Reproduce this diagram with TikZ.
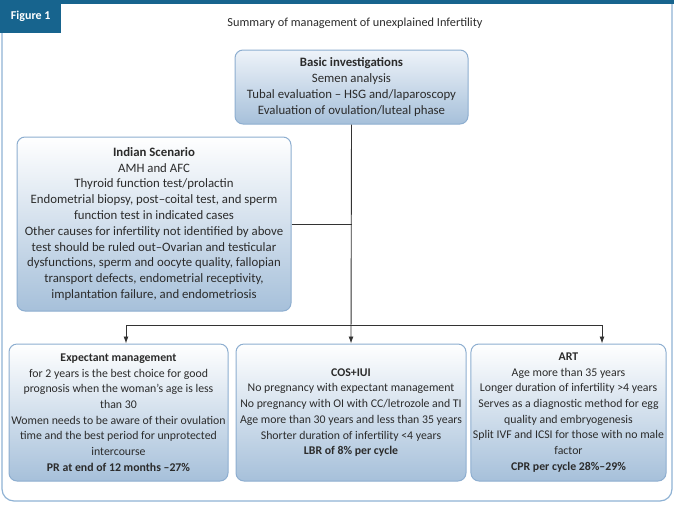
\documentclass[tikz,border=0pt]{standalone}
\usepackage{fontspec}
\setmainfont{Carlito}
\usetikzlibrary{arrows.meta,shadings}
\definecolor{tabblue}{HTML}{17648E}
\definecolor{frameblue}{HTML}{8FB2D4}
\definecolor{boxedge}{HTML}{8DAED0}
\definecolor{boxlow}{HTML}{A6C0DA}
\definecolor{boxtop}{HTML}{EEF3F9}
\definecolor{linegray}{HTML}{333333}
\definecolor{textgray}{HTML}{2B2B2B}
\tikzset{
  box/.style={draw=boxedge, line width=1pt, rounded corners=8pt, align=center,
    inner sep=2pt, font=\fontsize{12.8}{15.8}\selectfont, text=textgray},
  lowbox/.style={box, font=\fontsize{11.8}{15.7}\selectfont},
  grad/.style={top color=boxtop, bottom color=boxlow},
  gradlow/.style={top color=white, middle color=white, bottom color=boxlow},
  conn/.style={draw=linegray, line width=0.9pt},
  arr/.style={conn, -{Latex[length=7pt,width=5pt]}},
}
\begin{document}
\begin{tikzpicture}[x=1pt,y=-1pt]
\useasboundingbox (0,0) rectangle (674,504);
% frame
\draw[frameblue, line width=1.2pt, rounded corners=12pt] (2,2) -- (2,501) -- (672,501) -- (672,2);
\fill[tabblue] (0,0) rectangle (674,4);
\node[fill=tabblue, minimum width=61pt, minimum height=33pt, anchor=north west, inner sep=0pt,
  text=white, font=\fontsize{12}{14}\selectfont\bfseries] (tab) at (0,0) {Figure 1};
\node[font=\fontsize{12.3}{14}\selectfont, text=textgray] (title) at (355,23) {Summary of management of unexplained Infertility};
% boxes
\node[box, grad, minimum width=233pt, minimum height=74pt] (basic) at (351.5,87)
 {\textbf{Basic investigations}\\Semen analysis\\Tubal evaluation -- HSG and/laparoscopy\\Evaluation of ovulation/luteal phase};
\node[box, gradlow, minimum width=274pt, minimum height=174pt] (indian) at (154,224)
 {\textbf{Indian Scenario}\\AMH and AFC\\Thyroid function test/prolactin\\Endometrial biopsy, post--coital test, and sperm\\function test in indicated cases\\Other causes for infertility not identified by above\\test should be ruled out--Ovarian and testicular\\dysfunctions, sperm and oocyte quality, fallopian\\transport defects, endometrial receptivity,\\implantation failure, and endometriosis};
\node[lowbox, gradlow, minimum width=219pt, minimum height=137pt] (exp) at (118.5,412.5)
 {\textbf{Expectant management}\\for 2 years is the best choice for good\\prognosis when the woman's age is less\\than 30\\Women needs to be aware of their ovulation\\time and the best period for unprotected\\intercourse\\\textbf{PR at end of 12 months --27\%}};
\node[lowbox, gradlow, minimum width=230pt, minimum height=137pt] (cos) at (351,412.5)
 {\textbf{COS+IUI}\\No pregnancy with expectant management\\No pregnancy with OI with CC/letrozole and TI\\Age more than 30 years and less than 35 years\\Shorter duration of infertility <4 years\\\textbf{LBR of 8\% per cycle}};
\node[lowbox, gradlow, minimum width=187pt, minimum height=137pt] (art) at (568.5,412.5)
 {\textbf{ART}\\Age more than 35 years\\Longer duration of infertility >4 years\\Serves as a diagnostic method for egg\\quality and embryogenesis\\Split IVF and ICSI for those with no male\\factor\\\textbf{CPR per cycle 28\%--29\%}};
% connectors
\coordinate (hl) at (126,325);
\coordinate (hr) at (602,325);
\draw[arr] (basic.south) -- (cos.north);
\draw[conn] (indian.east) -- (indian.east -| basic.south);
\draw[conn] (hl) -- (hr);
\draw[arr] (hl) -- (hl |- exp.north);
\draw[arr] (hr) -- (hr |- art.north);
\end{tikzpicture}
\end{document}
